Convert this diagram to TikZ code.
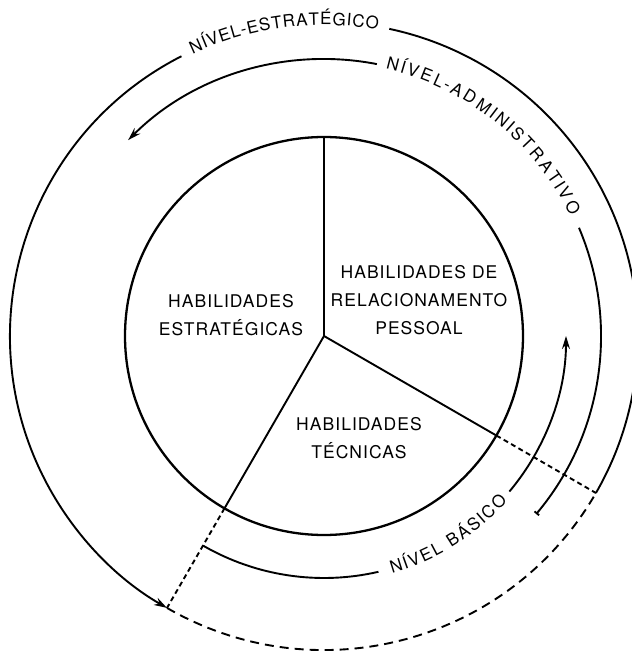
\documentclass[tikz,border=0pt]{standalone}
\usepackage{fontspec}
\setmainfont{TeX Gyre Heros}[LetterSpace=6]
\usetikzlibrary{arrows.meta,decorations.text}

\newcommand{\curvefont}{\fontsize{17}{17}\selectfont}

\begin{document}
\begin{tikzpicture}[x=1pt, y=1pt, line width=1.9pt,
		label/.style = {align=center, font=\fontsize{17.5}{28}\selectfont},
		arrowtip/.style = {-{Stealth[length=13pt, width=8pt]}},
		ticktip/.style = {-{Bar[width=6pt]}},
		gap/.style = {dash pattern=on 5pt off 3.5pt},
		bend text/.style = {decorate, decoration={text effects along path, text={#1}, text align=center,
			text effects/.cd, text along path, fit text to path, characters={anchor=base, font=\curvefont}}}]
		\useasboundingbox (-324,-318) rectangle (308,336);
		\coordinate (O) at (0,0);
		\coordinate (top) at (90:199);
		\coordinate (rgt) at (-30:199);
		\coordinate (lft) at (240:199);
		\coordinate (rgtout) at (-30:314);
		\coordinate (lftout) at (240:314);
		\draw[line width=2.3pt] (O) circle[radius=199];
		\draw (O) -- (top);
		\draw (O) -- (rgt);
		\draw (O) -- (lft);
		\draw[gap] (rgt) -- (rgtout);
		\draw[gap] (lft) -- (lftout);
		\node[label] (estrategicas) at (-93,21) {HABILIDADES\\ESTRATÉGICAS};
		\node[label] (pessoal) at (95,36) {HABILIDADES DE\\RELACIONAMENTO\\PESSOAL};
		\node[label] (tecnicas) at (35,-102) {HABILIDADES\\TÉCNICAS};
		% nivel estrategico
		\draw (rgtout) arc[start angle=-30, end angle=78, radius=314];
		\path[bend text=NÍVEL-ESTRATÉGICO] (115:311) arc[start angle=115, end angle=80, radius=311];
		\draw[arrowtip] (117:314) arc[start angle=117, end angle=240, radius=314];
		\draw[dash pattern=on 9pt off 6pt] (lftout) arc[start angle=240, end angle=330, radius=314];
		% nivel administrativo
		\draw[ticktip] (23:277) arc[start angle=23, end angle=-40, radius=277];
		\path[bend text=NÍVEL-ADMINISTRATIVO] (77:274) arc[start angle=77, end angle=26, radius=274];
		\draw[arrowtip] (79:277) arc[start angle=79, end angle=135, radius=277];
		% nivel basico
		\draw (240:242) arc[start angle=240, end angle=283, radius=242];
		\path[bend text=NÍVEL BÁSICO] (286:247) arc[start angle=286, end angle=318, radius=247];
		\draw[arrowtip] (320:242) arc[start angle=320, end angle=360, radius=242];
	\end{tikzpicture}
\end{document}
